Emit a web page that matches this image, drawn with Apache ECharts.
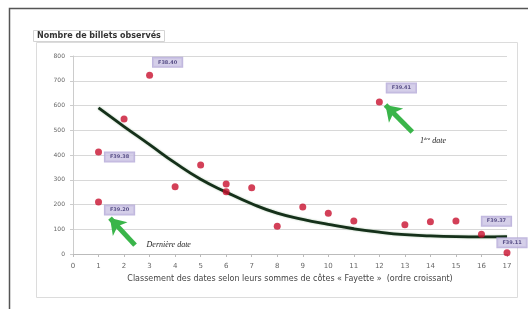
<!DOCTYPE html>
<html><head><meta charset="utf-8">
<script src="https://cdn.jsdelivr.net/npm/echarts@6/dist/echarts.min.js"></script>
<style>html,body{margin:0;padding:0;background:#fff}#c{width:528px;height:309px}</style>
</head><body><div id="c"></div>
<script>
// Observed points: [rank, number of notes]
const pointX = [1, 1, 2, 3, 4, 5, 6, 6, 7, 8, 9, 10, 11, 12, 13, 14, 15, 16, 17];
const pointY = [412, 210, 545, 722, 272, 360, 283, 252, 268, 112, 190, 165, 133, 614, 118, 130, 133, 80, 5];
// Labels attached to some points (index -> text)
const labelIdx = [0, 1, 3, 13, 17, 18];
const labelText = ['F39.38', 'F39.20', 'F38.40', 'F39.41', 'F39.37', 'F39.11'];
const labelOffset = [[21, 5], [21, 8], [18, -13], [22, -14], [15, -13], [5, -10]];
// Trend curve
const trendX = [1, 2, 3, 4, 5, 6, 7, 8, 9, 10, 11, 12, 13, 14, 15, 16, 17];
const trendY = [590, 515, 442, 368, 302, 250, 203, 165, 140, 120, 102, 88, 78, 73, 70, 69, 70];
// Annotation arrows [tailX, tailY, headX, headY]
const arrows = [[13.29, 493, 12.24, 602], [2.43, 36, 1.45, 145]];
const notes = [{x: 14.1, y: 458, t: '1ère date'}, {x: 3.75, y: 36, t: 'Dernière date'}];
const yTicks = [0, 100, 200, 300, 400, 500, 600, 700, 800];
const xTitle = 'Classement des dates selon leurs sommes de côtes « Fayette »  (ordre croissant)';
const yTitle = 'Nombre de billets observés';

const chart = echarts.init(document.getElementById('c'), null, {renderer: 'canvas'});
const scatterData = pointX.map((x, i) => {
  const k = labelIdx.indexOf(i);
  const d = {value: [x, pointY[i]]};
  if (k >= 0) {
    d.label = {
      show: true, position: 'inside', offset: labelOffset[k], formatter: labelText[k],
      backgroundColor: '#cbc3e3', borderColor: '#b0a5d6', borderWidth: 1,
      padding: [2, 5], fontSize: 5, fontWeight: 'bold', color: '#3b3170', fontFamily: 'DejaVu Sans'
    };
  }
  return d;
});
chart.setOption({
  animation: false,
  backgroundColor: '#fff',
  title: {
    text: yTitle, left: 33, top: 30,
    backgroundColor: '#fff', borderColor: '#d4d4d4', borderWidth: 1, padding: [2, 4],
    textStyle: {fontSize: 8, fontWeight: 'bold', color: '#333', fontFamily: 'DejaVu Sans'}
  },
  graphic: [
    {type: 'polyline', shape: {points: [[9.5, 309], [9.5, 8.5], [528, 8.5]]}, style: {stroke: '#555', lineWidth: 1.5, fill: null}, z: -1},
    {type: 'rect', shape: {x: 36.5, y: 42.5, width: 481, height: 255}, style: {stroke: '#dcdcdc', lineWidth: 1, fill: null}, z: -1}
  ],
  grid: {left: 73, right: 21, top: 56, bottom: 55},
  xAxis: {
    type: 'value', min: 0, max: 17, interval: 1,
    name: xTitle, nameLocation: 'middle', nameGap: 20,
    nameTextStyle: {fontSize: 8, color: '#444', fontFamily: 'DejaVu Sans'},
    axisLine: {lineStyle: {color: '#bbb'}},
    axisTick: {show: true, length: 3, lineStyle: {color: '#bbb'}},
    axisLabel: {fontSize: 7, color: '#666', margin: 9, fontFamily: 'DejaVu Sans'},
    splitLine: {show: false}
  },
  yAxis: {
    type: 'value', min: 0, max: 800, interval: 100,
    axisLine: {show: true, lineStyle: {color: '#ccc'}},
    axisTick: {show: true, length: 3, lineStyle: {color: '#ccc'}},
    axisLabel: {fontSize: 6, color: '#666', margin: 8, fontFamily: 'DejaVu Sans',
      formatter: v => yTicks.includes(v) ? String(v) : ''},
    splitLine: {lineStyle: {color: '#d8d8d8'}}
  },
  series: [
    {
      type: 'line', data: trendX.map((x, i) => [x, trendY[i]]), smooth: true, symbol: 'none',
      lineStyle: {color: '#15301a', width: 2.8, shadowColor: 'rgba(0,80,0,0.35)', shadowBlur: 2}, z: 2,
      markLine: {
        silent: true, symbol: ['none', 'arrow'], symbolSize: 15,
        itemStyle: {color: '#3ab54a'},
        lineStyle: {color: '#3ab54a', width: 5, type: 'solid'},
        label: {show: false},
        data: arrows.map(a => [{coord: [a[0], a[1]]}, {coord: [a[2], a[3]]}])
      },
      markPoint: {
        symbol: 'circle', symbolSize: 0,
        label: {show: true, fontSize: 8, color: '#222', fontFamily: 'Liberation Serif', fontStyle: 'italic'},
        data: notes.map(n => ({coord: [n.x, n.y], value: n.t,
          label: {formatter: n.t.startsWith('1ère') ? '{a|1}{s|ère}{a| date}' : n.t,
            rich: {a: {fontSize: 8, fontStyle: 'italic', fontFamily: 'Liberation Serif', color: '#222'},
                   s: {fontSize: 5, fontStyle: 'italic', fontFamily: 'Liberation Serif', color: '#222', verticalAlign: 'top', padding: [0, 0, 4, 0]}}}}))
      }
    },
    {
      type: 'scatter', data: scatterData, symbolSize: 7,
      itemStyle: {color: '#c8102e'}, z: 3, label: {show: false}
    }
  ]
});
</script></body></html>
